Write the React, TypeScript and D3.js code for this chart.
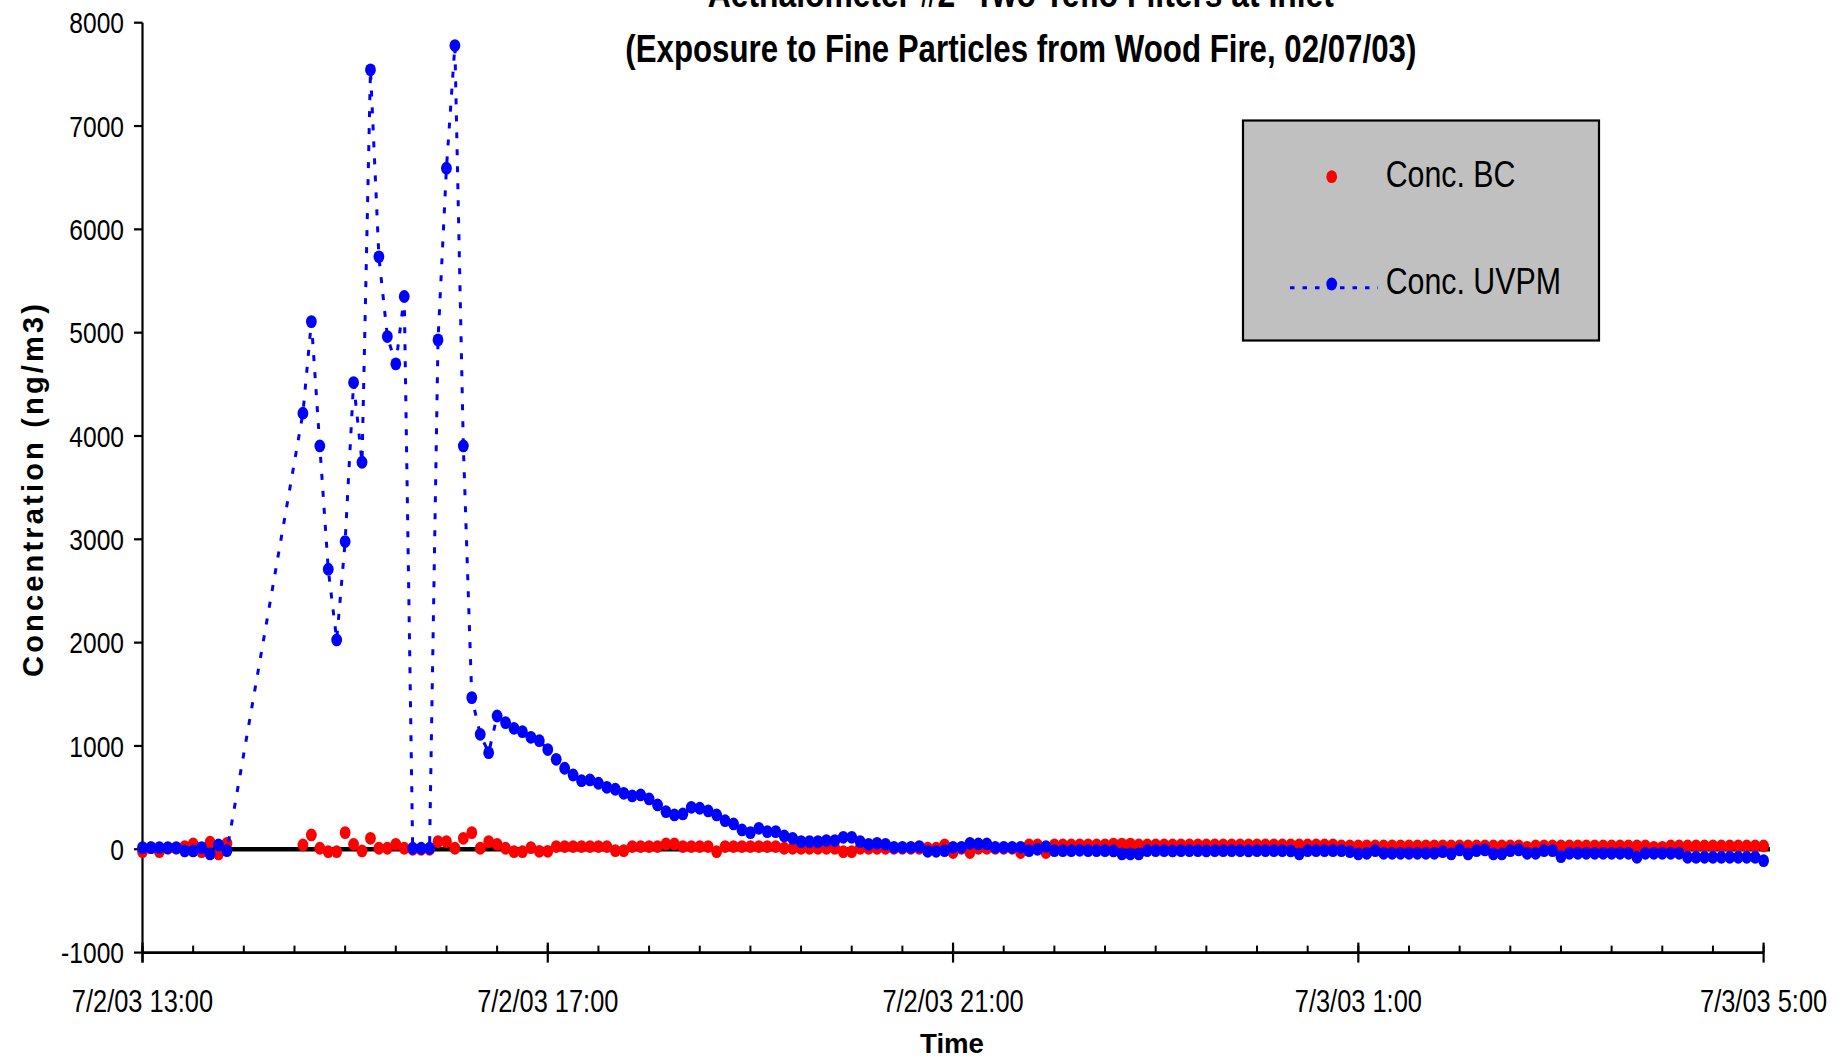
import React from "react";
import * as d3 from "d3";

// ---------- data ----------
// Aethalometer sampled every 5 minutes; two runs of samples (gap 13:50 -> 14:35)
const SAMPLING_RUNS: [string, number][] = [
  ["2003-07-02T13:00:00", 11],
  ["2003-07-02T14:35:00", 174],
];
const SAMPLE_INTERVAL_MIN = 5;

const CONC_BC: number[] = [
  // 13:00 - 13:50
  -23, 16, -23, 10, 10, 26, 52, -23, 68, -45, 58,
  // 14:35 - 17:00
  42, 139, 10, -23, -23, 161, 48, -16, 106, 10, 10, 48, 10, 0, 0, 0, 74, 74, 10, 106,
  161, 10, 74, 48, 10, -23, -23, 16, -20, -20,
  // 17:05 - 20:50
  26, 26, 26, 26, 26, 26, 26, -13, -13, 26, 26, 26, 26, 51, 51, 26, 26, 26, 26, -23,
  26, 26, 26, 26, 26, 26, 26, 10, 10, 10, 10, 10, 10, 10, -23, -23, 10, 10, 10, 10,
  10, 10, 10, 10, 10, 10,
  // 20:55 - 00:45
  42, -32, 10, -32, 10, 10, 10, 10, 10, -32, 42, 42, -32, 42, 42, 42, 42, 42, 42, 42,
  50, 50, 50, 42, 42, 42, 42, 42, 42, 42, 42, 42, 42, 42, 42, 42, 42, 42, 42, 42,
  42, 42, 42, 42, 42, 42, 42,
  // 00:50 - 05:00
  32, 32, 32, 32, 32, 32, 32, 32, 32, 32, 32, 32, 32, 32, 32, 32, 32, 32, 32, 32,
  32, 32, 19, 32, 32, 32, 32, 32, 32, 32, 32, 32, 32, 32, 32, 32, 32, 19, 19, 32,
  32, 32, 32, 32, 32, 32, 32, 32, 32, 32, 32,
];

const CONC_UVPM: number[] = [
  // 13:00 - 13:50
  16, 16, 16, 16, 16, -16, -16, 16, -45, 42, -13,
  // 14:35 - 17:00
  4221, 5107, 3904, 2710, 2026, 2978, 4517, 3746, 7544, 5734, 4962, 4698, 5350, 10, 10,
  10, 4930, 6592, 7779, 3904, 1468, 1113, 935, 1290, 1226, 1171, 1138, 1084, 1051, 965,
  // 17:05 - 20:50
  871, 784, 719, 664, 671, 639, 600, 581, 542, 516, 526, 487, 429, 364, 332, 342, 406,
  397, 371, 332, 277, 245, 187, 161, 203, 171, 171, 129, 106, 74, 74, 74, 84, 84, 116,
  116, 74, 48, 58, 48, 19, 19, 19, 26, -20, -20,
  // 20:55 - 00:45
  -13, 19, 19, 58, 52, 52, 19, 19, 19, 19, -13, 0, 26, -13, -13, -13, -10, -13, -13,
  -13, -16, -45, -45, -45, -13, -13, -13, -16, -13, -13, -13, -16, -13, -13, -13, -13,
  -16, -13, -13, -13, -13, -16, -45, -13, -13, -13, -13,
  // 00:50 - 05:00
  -13, -23, -45, -39, -13, -39, -39, -39, -39, -39, -39, -39, -23, -45, -6, -45, -13,
  -6, -45, -45, -13, -6, -39, -39, -13, -13, -71, -39, -39, -39, -39, -39, -39, -39,
  -39, -77, -39, -39, -39, -39, -39, -77, -77, -77, -77, -77, -77, -77, -77, -77, -110,
];

const SERIES_NAMES = ["Conc. BC", "Conc. UVPM"];
const Y_TICKS = [-1000, 0, 1000, 2000, 3000, 4000, 5000, 6000, 7000, 8000];
const X_TICK_LABELS = ["7/2/03 13:00", "7/2/03 17:00", "7/2/03 21:00", "7/3/03 1:00", "7/3/03 5:00"];
const X_START = "2003-07-02T13:00:00";
const X_END = "2003-07-03T05:00:00";
const TITLE_LINES = [
  "Aethalometer #2- Two Teflo Filters at Inlet",
  "(Exposure to Fine Particles from Wood Fire, 02/07/03)",
];
const X_TITLE = "Time";
const Y_TITLE = "Concentration (ng/m3)";

// ---------- layout ----------
const W = 1846;
const H = 1058;
const PLOT = { left: 142.5, right: 1763.6, top: 22.7, bottom: 952.6 };
const FONT = "'Liberation Sans', Arial, sans-serif";
const NARROW_SCALE = 0.82;
const RED = "#FF0000";
const BLUE = "#0000FF";

function buildTimes(): Date[] {
  const out: Date[] = [];
  SAMPLING_RUNS.forEach(([start, n]) => {
    const t0 = new Date(start);
    for (let i = 0; i < n; i++) out.push(d3.timeMinute.offset(t0, i * SAMPLE_INTERVAL_MIN));
  });
  return out;
}

function NarrowText(props: {
  x: number;
  y: number;
  size: number;
  anchor?: "start" | "middle" | "end";
  children: React.ReactNode;
}) {
  return (
    <text
      transform={`translate(${props.x},${props.y}) scale(${NARROW_SCALE},1)`}
      textAnchor={props.anchor || "start"}
      fontSize={props.size}
    >
      {props.children}
    </text>
  );
}

export default function App() {
  const times = buildTimes();
  const start = new Date(X_START);
  const end = new Date(X_END);
  const x = d3.scaleTime().domain([start, end]).range([PLOT.left, PLOT.right]);
  const y = d3.scaleLinear().domain([-1000, 8000]).range([PLOT.bottom, PLOT.top]);

  const majorTicks = X_TICK_LABELS.map((_, i) => d3.timeHour.offset(start, 4 * i));
  const minorTicks = d3.timeMinute.every(30)!.range(start, d3.timeMinute.offset(end, 1));

  const bc = times.map((t, i) => ({ t, v: CONC_BC[i] }));
  const uv = times.map((t, i) => ({ t, v: CONC_UVPM[i] }));

  const line = d3
    .line<{ t: Date; v: number }>()
    .x((d) => x(d.t))
    .y((d) => y(d.v));

  const rx = 5.4;
  const ry = 6.4;

  return (
    <svg
      width={W}
      height={H}
      style={{ position: "absolute", left: 0, top: 0, background: "#fff" }}
      fontFamily={FONT}
    >
      {/* titles */}
      <text x={1020.8} y={7} textAnchor="middle" fontWeight="bold" fontSize={38} textLength={626} lengthAdjust="spacingAndGlyphs">
        {TITLE_LINES[0]}
      </text>
      <text x={1020.8} y={62} textAnchor="middle" fontWeight="bold" fontSize={38} textLength={791} lengthAdjust="spacingAndGlyphs">
        {TITLE_LINES[1]}
      </text>

      {/* zero line */}
      <line x1={PLOT.left} x2={1770} y1={y(0)} y2={y(0)} stroke="#000" strokeWidth={4.5} />

      {/* axes */}
      <line x1={PLOT.left} x2={PLOT.left} y1={PLOT.top} y2={PLOT.bottom + 10} stroke="#000" strokeWidth={2.2} />
      {Y_TICKS.map((v) => (
        <g key={"yt" + v}>
          <line x1={PLOT.left - 8.5} x2={PLOT.left} y1={y(v)} y2={y(v)} stroke="#000" strokeWidth={2.2} />
          <NarrowText x={124} y={y(v) + 10.7} size={30} anchor="end">
            {v}
          </NarrowText>
        </g>
      ))}
      <line x1={PLOT.left} x2={PLOT.right} y1={PLOT.bottom} y2={PLOT.bottom} stroke="#000" strokeWidth={2.6} />
      {minorTicks.map((t, i) => (
        <line key={"mt" + i} x1={x(t)} x2={x(t)} y1={PLOT.bottom - 7} y2={PLOT.bottom} stroke="#000" strokeWidth={2} />
      ))}
      {majorTicks.map((t, i) => (
        <g key={"xt" + i}>
          <line x1={x(t)} x2={x(t)} y1={PLOT.bottom - 10} y2={PLOT.bottom + 10} stroke="#000" strokeWidth={2.2} />
          <NarrowText x={x(t)} y={1011.7} size={31} anchor="middle">
            {X_TICK_LABELS[i]}
          </NarrowText>
        </g>
      ))}

      {/* axis titles */}
      <text x={952} y={1053} textAnchor="middle" fontWeight="bold" fontSize={28} textLength={64} lengthAdjust="spacingAndGlyphs">
        {X_TITLE}
      </text>
      <text
        transform="translate(43.3,490.5) rotate(-90)"
        textAnchor="middle"
        fontWeight="bold"
        fontSize={29}
        textLength={373}
        lengthAdjust="spacing"
      >
        {Y_TITLE}
      </text>

      {/* BC markers */}
      {bc.map((d, i) => (
        <ellipse key={"bc" + i} cx={x(d.t)} cy={y(d.v)} rx={rx} ry={ry} fill={RED} />
      ))}

      {/* UVPM line + markers */}
      <path d={line(uv) || ""} fill="none" stroke={BLUE} strokeWidth={3} strokeDasharray="6,11" />
      {uv.map((d, i) => (
        <ellipse key={"uv" + i} cx={x(d.t)} cy={y(d.v)} rx={rx} ry={ry} fill={BLUE} />
      ))}

      {/* legend */}
      <rect x={1243} y={120.5} width={356} height={220} fill="#C0C0C0" stroke="#000" strokeWidth={2.2} />
      <ellipse cx={1331.7} cy={176.7} rx={rx} ry={ry} fill={RED} />
      <NarrowText x={1385.7} y={186.7} size={37}>
        {SERIES_NAMES[0]}
      </NarrowText>
      <line x1={1290} x2={1378} y1={287.7} y2={287.7} stroke={BLUE} strokeWidth={3} strokeDasharray="4.5,8" />
      <ellipse cx={1331.7} cy={284} rx={rx} ry={ry} fill={BLUE} />
      <NarrowText x={1385.7} y={294} size={37}>
        {SERIES_NAMES[1]}
      </NarrowText>
    </svg>
  );
}
